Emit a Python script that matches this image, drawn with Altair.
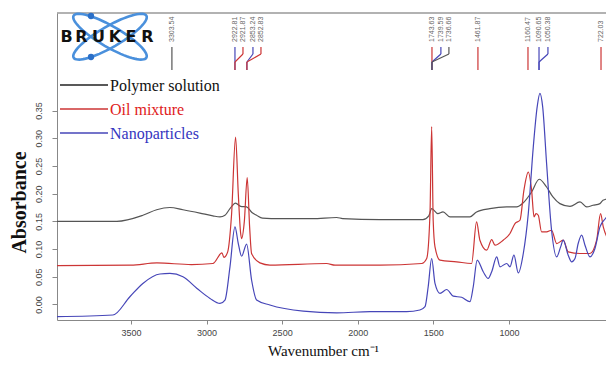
import math
import altair as alt
import pandas as pd

# ---------------- data ----------------
series_names = ["Polymer solution", "Oil mixture", "Nanoparticles"]
series_colors = ["#555555", "#cc3535", "#4646b8"]
legend_text_colors = ["#111111", "#e02020", "#3535c0"]

poly_wn = [3989, 3593, 3421, 3330, 3242, 3156, 3044, 2958, 2911, 2878, 2845, 2808, 2774, 2735, 2700,
           2669, 2630, 2515, 2300, 2139, 2100, 1853, 1569, 1530, 1511, 1470, 1436, 1390, 1258, 1214,
           1126, 1015, 949, 907, 850, 800, 751, 709, 663, 596, 530, 486, 444, 398, 378, 312]
poly_abs = [0.150, 0.150, 0.161, 0.171, 0.175, 0.171, 0.165, 0.160, 0.158, 0.161, 0.173, 0.183, 0.177,
            0.176, 0.166, 0.161, 0.156, 0.155, 0.155, 0.157, 0.155, 0.153, 0.153, 0.160, 0.173, 0.164,
            0.167, 0.158, 0.158, 0.167, 0.173, 0.176, 0.176, 0.183, 0.203, 0.226, 0.212, 0.194, 0.182,
            0.177, 0.185, 0.176, 0.179, 0.182, 0.188, 0.193]

oil_wn = [3989, 3500, 3328, 3100, 2958, 2898, 2885, 2860, 2835, 2808, 2790, 2775, 2768, 2750, 2731,
          2715, 2702, 2647, 2581, 2206, 2150, 1853, 1577, 1544, 1522, 1511, 1501, 1489, 1456, 1346,
          1247, 1214, 1192, 1147, 1114, 1092, 1038, 993, 960, 927, 901, 872, 850, 834, 821,
          806, 784, 751, 718, 684, 641, 608, 530, 464, 420, 394, 376, 343, 310]
oil_abs = [0.070, 0.071, 0.075, 0.072, 0.074, 0.093, 0.085, 0.095, 0.160, 0.302, 0.200, 0.130, 0.119,
           0.150, 0.229, 0.140, 0.092, 0.075, 0.071, 0.074, 0.071, 0.071, 0.074, 0.083, 0.165, 0.321,
           0.152, 0.104, 0.080, 0.077, 0.074, 0.149, 0.116, 0.098, 0.117, 0.107, 0.116, 0.128, 0.146,
           0.152, 0.206, 0.239, 0.206, 0.158, 0.164, 0.161, 0.131, 0.131, 0.134, 0.110, 0.116, 0.095,
           0.092, 0.092, 0.116, 0.164, 0.140, 0.116, 0.095]

nano_wn = [3989, 3619, 3507, 3421, 3308, 3242, 3156, 3063, 2977, 2911, 2878, 2845, 2812, 2790, 2768,
           2735, 2702, 2669, 2581, 2360, 2139, 1919, 1677, 1589, 1555, 1534, 1511, 1489, 1456, 1412,
           1368, 1313, 1258, 1236, 1210, 1170, 1137, 1114, 1081, 1059, 1015, 993, 967, 938, 905,
           872, 839, 813, 795, 777, 751, 718, 684, 658, 641, 608, 585, 563, 542, 519,
           497, 464, 431, 398, 354, 310]
nano_abs = [-0.022, -0.019, 0.014, 0.038, 0.055, 0.056, 0.050, 0.029, 0.011, 0.002, 0.008, 0.068, 0.140,
            0.110, 0.087, 0.109, 0.044, 0.008, -0.001, -0.012, -0.015, -0.013, -0.013, -0.010, -0.004,
            0.032, 0.083, 0.038, 0.020, 0.027, 0.015, 0.013, 0.005, 0.032, 0.080, 0.059, 0.047, 0.059,
            0.086, 0.068, 0.074, 0.068, 0.089, 0.057, 0.092, 0.164, 0.284, 0.357, 0.381, 0.357, 0.255,
            0.134, 0.086, 0.104, 0.116, 0.089, 0.077, 0.083, 0.110, 0.125, 0.107, 0.086, 0.101, 0.140,
            0.158, 0.182]

x_ticks = [3500, 3000, 2500, 2000, 1500, 1000]
y_ticks = [0.00, 0.05, 0.10, 0.15, 0.20, 0.25, 0.30, 0.35]

peak_text = ["3303.54", "2922.81", "2921.87", "2853.24", "2852.83", "1743.63", "1739.59", "1736.66",
             "1461.87", "1160.47", "1090.65", "1050.38", "722.03"]
peak_label_wn = [3229, 2812, 2759, 2693, 2640, 1509, 1450, 1397, 1205, 874, 801, 742, 391]
peak_end_wn = [3229, 2812, 2812, 2733, 2733, 1509, 1509, 1509, 1205, 874, 801, 801, 391]
peak_series = ["Polymer solution", "Nanoparticles", "Oil mixture", "Nanoparticles", "Oil mixture",
               "Oil mixture", "Nanoparticles", "Polymer solution", "Oil mixture", "Oil mixture",
               "Nanoparticles", "Nanoparticles", "Oil mixture"]

logo_letters = list("BRUKER")

# ---------------- layout ----------------
W, H = 549, 307
xscale = alt.Scale(domain=[3989, 358], nice=False, zero=False)
yscale = alt.Scale(domain=[-0.028, 0.526], nice=False, zero=False)

xaxis = alt.Axis(values=x_ticks, format="d", grid=False, labelFontSize=9, labelFont="Liberation Sans",
                 labelColor="#444444", tickSize=4, tickColor="#888888", domainColor="#888888",
                 labelPadding=4, titleFont="Liberation Serif", titleFontSize=15,
                 titleFontWeight="normal", titleColor="#111111", titleX=266, titleY=35,
                 titleAlign="center", titleBaseline="alphabetic")
yaxis = alt.Axis(values=y_ticks, format=".2f", grid=False, labelFontSize=9, labelFont="Liberation Sans",
                 labelColor="#444444", labelAngle=270, labelAlign="center", labelBaseline="bottom",
                 tickSize=5, tickColor="#888888", domainColor="#888888", labelPadding=9,
                 titleFont="Liberation Serif", titleFontSize=20, titleFontWeight="bold",
                 titleColor="#111111", titleAngle=270, titleX=-32, titleY=189, titleAlign="center",
                 titleBaseline="alphabetic")

color_scale = alt.Scale(domain=series_names, range=series_colors)


def xenc(field):
    return alt.X(field, type="quantitative", scale=xscale, axis=xaxis, title="Wavenumber cm⁻¹")


def yenc(field):
    return alt.Y(field, type="quantitative", scale=yscale, axis=yaxis, title="Absorbance")


layers = []
for name, color, wn, ab in [(series_names[0], series_colors[0], poly_wn, poly_abs),
                            (series_names[1], series_colors[1], oil_wn, oil_abs),
                            (series_names[2], series_colors[2], nano_wn, nano_abs)]:
    df = pd.DataFrame({"wn": wn, "abs": ab})
    layers.append(
        alt.Chart(df).mark_line(color=color, strokeWidth=1.2, interpolate="monotone", clip=True)
        .encode(x=xenc("wn"), y=yenc("abs"))
    )

dummy = pd.DataFrame({"a": [0]})

# top frame line
layers.append(alt.Chart(dummy).mark_rule(color="#999999", strokeWidth=1.5)
              .encode(x=alt.value(0), x2=alt.value(W), y=alt.value(0)))

# peak annotations
peaks = pd.DataFrame({"label": peak_text, "wn": peak_label_wn, "wn2": peak_end_wn, "series": peak_series})
cenc = alt.Color("series:N", scale=color_scale, legend=None)
layers.append(alt.Chart(peaks).mark_rule(strokeWidth=1.2)
              .encode(x=xenc("wn"), y=alt.value(34), y2=alt.value(41), color=cenc))
layers.append(alt.Chart(peaks).mark_rule(strokeWidth=1.2)
              .encode(x=xenc("wn"), x2=alt.X2("wn2"), y=alt.value(41), y2=alt.value(49), color=cenc))
layers.append(alt.Chart(peaks).mark_rule(strokeWidth=1.2)
              .encode(x=xenc("wn2"), y=alt.value(49), y2=alt.value(57), color=cenc))
layers.append(alt.Chart(peaks).mark_text(angle=270, align="left", baseline="middle", fontSize=7,
                                         font="Liberation Sans", color="#666666")
              .encode(x=xenc("wn"), y=alt.value(29), text="label:N"))

# legend
for i, name in enumerate(series_names):
    ly = 72 + 24 * i
    layers.append(alt.Chart(dummy).mark_rule(color=series_colors[i] if i else "#222222", strokeWidth=1.6)
                  .encode(x=alt.value(3), x2=alt.value(51), y=alt.value(ly)))
    layers.append(alt.Chart(pd.DataFrame({"t": [name]}))
                  .mark_text(align="left", baseline="middle", font="Liberation Serif", fontSize=16,
                             color=legend_text_colors[i])
                  .encode(x=alt.value(53), y=alt.value(ly + 1), text="t:N"))


# BRUKER logo
def ellipse_path(angle_deg, ratio, n=72):
    th = math.radians(angle_deg)
    pts = []
    for k in range(n):
        t = 2 * math.pi * k / n
        ex, ey = math.cos(t), ratio * math.sin(t)
        pts.append(f"{ex*math.cos(th) - ey*math.sin(th):.3f},{ex*math.sin(th) + ey*math.cos(th):.3f}")
    return "M" + " L".join(pts) + " Z"


for ang in (30, -30):
    layers.append(alt.Chart(dummy).mark_point(shape=ellipse_path(ang, 0.25), filled=False, size=7056,
                                              stroke="#4a90dc", strokeWidth=2.6, opacity=1)
                  .encode(x=alt.value(53), y=alt.value(23.7)))
for dy in (3, 44):
    layers.append(alt.Chart(dummy).mark_point(shape="circle", filled=True, size=40, color="#2a6fc8",
                                              opacity=1)
                  .encode(x=alt.value(34), y=alt.value(dy)))
letter_x = [9.5, 24.5, 41.5, 58, 74, 90.5]
for ch, lx in zip(logo_letters, letter_x):
    layers.append(alt.Chart(pd.DataFrame({"t": [ch]}))
                  .mark_text(align="center", baseline="middle", font="DejaVu Sans", fontSize=16,
                             fontWeight="bold", color="#111111")
                  .encode(x=alt.value(lx), y=alt.value(24), text="t:N"))

chart = alt.layer(*layers).properties(
    width=W, height=H,
    padding={"left": 49, "top": 5, "right": 0, "bottom": 42},
    autosize=alt.AutoSizeParams(type="none"),
).configure_view(strokeWidth=0)

chart.save("out.html", embed_options={"renderer": "svg", "actions": False})
